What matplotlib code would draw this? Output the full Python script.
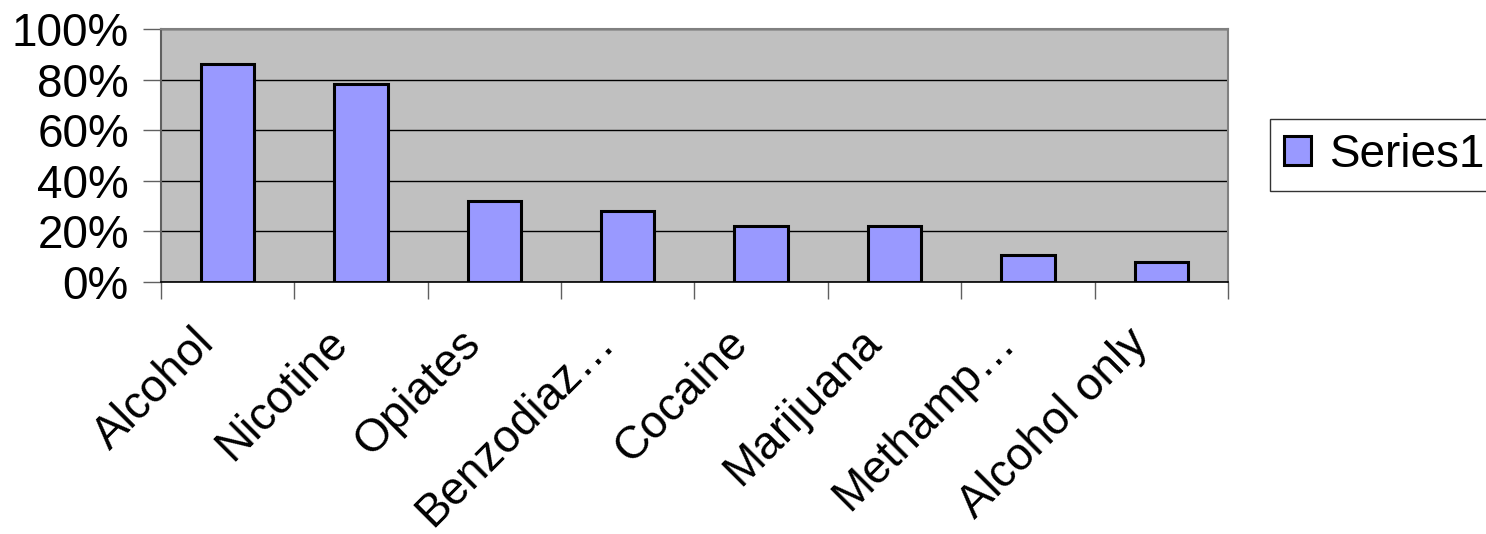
import matplotlib
matplotlib.use("Agg")
import matplotlib.pyplot as plt
import matplotlib.transforms as mtransforms
import numpy as np
from matplotlib.ticker import FixedLocator, PercentFormatter

plt.rcParams['font.family'] = ['Liberation Sans', 'DejaVu Sans']

categories = ['Alcohol', 'Nicotine', 'Opiates', 'Benzodiaz…', 'Cocaine',
              'Marijuana', 'Methamp…', 'Alcohol only']
series1 = [0.861, 0.783, 0.321, 0.281, 0.219, 0.219, 0.105, 0.079]

fig = plt.figure(figsize=(14.86, 5.34), dpi=100)
ax = fig.add_axes([0.1083, 0.4725, 0.718, 0.4726])

x = np.arange(len(categories))
ax.bar(x, series1, width=0.4, color='#9999FF', edgecolor='black',
       linewidth=2.2, label='Series1', zorder=3)

ax.set_facecolor('#C0C0C0')
ax.set_xlim(-0.5, len(categories) - 0.5)
ax.set_ylim(0, 1.0)
ax.set_yticks(np.arange(0, 1.01, 0.2))
ax.yaxis.set_major_formatter(PercentFormatter(1.0, decimals=0))
ax.grid(axis='y', color='black', linewidth=1, zorder=1)

# category labels at centres, tick marks at the boundaries
ax.set_xticks(x)
ax.set_xticklabels(categories, rotation=45, ha='right', va='center',
                   rotation_mode='anchor')
ax.xaxis.set_minor_locator(FixedLocator(np.arange(-0.5, len(categories), 1.0)))
ax.tick_params(axis='x', which='major', length=0, pad=50, labelsize=33)
ax.tick_params(axis='x', which='minor', length=12, width=1, color='#606060')
ax.tick_params(axis='y', length=13, width=1, color='#606060', pad=10,
               labelsize=33)

# nudge the slanted labels up and to the left
shift = mtransforms.ScaledTranslation(-20 / 100, 15 / 100, fig.dpi_scale_trans)
for lbl in ax.get_xticklabels():
    lbl.set_transform(lbl.get_transform() + shift)

for side in ['top', 'right']:
    ax.spines[side].set_color('#808080')
    ax.spines[side].set_linewidth(1.5)
ax.spines['left'].set_color('#606060')
ax.spines['left'].set_linewidth(1.5)
ax.spines['bottom'].set_color('black')
ax.spines['bottom'].set_linewidth(1.2)

leg = fig.legend(loc='center left', bbox_to_anchor=(0.8546, 0.7097),
                 fontsize=33, frameon=True, fancybox=False, shadow=False,
                 handlelength=0.6, handleheight=0.6, handletextpad=0.4,
                 borderpad=0.3, borderaxespad=0)
leg.get_frame().set_edgecolor('black')
leg.get_frame().set_linewidth(1)

fig.savefig('out.png', dpi=100)
